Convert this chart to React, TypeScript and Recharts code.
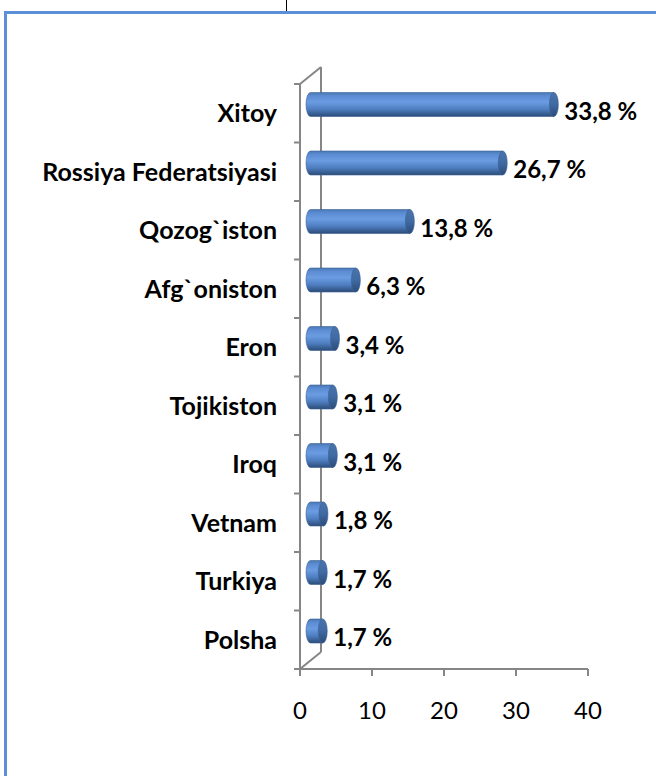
import { Bar, BarChart, LabelList, XAxis, YAxis, usePlotArea } from "recharts";

const countries = [
  "Xitoy",
  "Rossiya Federatsiyasi",
  "Qozog`iston",
  "Afg`oniston",
  "Eron",
  "Tojikiston",
  "Iroq",
  "Vetnam",
  "Turkiya",
  "Polsha",
];
const shares = [33.8, 26.7, 13.8, 6.3, 3.4, 3.1, 3.1, 1.8, 1.7, 1.7];
const xTicks = [0, 10, 20, 30, 40];

const data = countries.map((name, i) => ({ name, value: shares[i] }));

const AXIS = "#868686";
const FONT = "Lato, 'Open Sans', sans-serif";
// 3d depth of the plot box
const DEPTH_X = 21;
const DEPTH_Y = -17;
const CAP_RX = 4.5;

function Frame3D() {
  const area = usePlotArea();
  if (!area) return null;
  const { x, y, width, height } = area;
  const bottom = y + height;
  const n = countries.length;
  const ticks = Array.from({ length: n + 1 }, (_, i) => y + (i * height) / n);
  return (
    <g stroke={AXIS} strokeWidth={2} fill="none">
      <line x1={x + DEPTH_X} y1={y + DEPTH_Y} x2={x + DEPTH_X} y2={bottom + DEPTH_Y} />
      <line x1={x} y1={y} x2={x + DEPTH_X} y2={y + DEPTH_Y} />
      <line x1={x} y1={bottom} x2={x + DEPTH_X} y2={bottom + DEPTH_Y} />
      {ticks.map((ty) => (
        <line key={ty} x1={x - 6} y1={ty} x2={x} y2={ty} />
      ))}
    </g>
  );
}

function Cylinder(props: any) {
  const { x, y, width, height } = props;
  const x0 = x + DEPTH_X / 2;
  const x1 = x0 + Math.max(width, 0);
  const y0 = y + DEPTH_Y / 2;
  const ry = height / 2;
  const body = `M${x0},${y0} L${x1},${y0} L${x1},${y0 + height} L${x0},${y0 + height} A${CAP_RX},${ry} 0 0 1 ${x0},${y0} Z`;
  return (
    <g>
      <path d={body} fill="url(#cylGrad)" stroke="#3b6296" strokeWidth={0.6} />
      <ellipse cx={x1} cy={y0 + ry} rx={CAP_RX} ry={ry} fill="url(#capGrad)" stroke="#3b6296" strokeWidth={0.6} />
    </g>
  );
}

function ValueLabel(props: any) {
  const { x, y, width, height, value } = props;
  const tx = x + width + DEPTH_X / 2 + CAP_RX + 6;
  const ty = y + height / 2 - 2;
  return (
    <text x={tx} y={ty} dy="0.36em" fontFamily={FONT} fontWeight={700} fontSize={24} fill="#000">
      {Number(value).toFixed(1).replace(".", ",")} %
    </text>
  );
}

export default function App() {
  return (
    <div
      style={{
        position: "fixed",
        left: 0,
        top: 0,
        width: 656,
        height: 776,
        background: "#fff",
        overflow: "hidden",
      }}
    >
      <div style={{ position: "absolute", left: 286, top: 0, width: 1, height: 11, background: "#000" }} />
      <div
        style={{
          position: "absolute",
          left: 4,
          top: 11,
          width: 720,
          height: 820,
          border: "3px solid #5b8fd8",
        }}
      />
      <div style={{ position: "absolute", left: 0, top: 0 }}>
        <BarChart
          width={656}
          height={776}
          data={data}
          layout="vertical"
          margin={{ top: 84, right: 68, bottom: 67, left: 0 }}
          barSize={24}
        >
          <defs>
            <linearGradient id="cylGrad" x1="0" y1="0" x2="0" y2="1">
              <stop offset="0" stopColor="#4a78b4" />
              <stop offset="0.15" stopColor="#5c8dd4" />
              <stop offset="0.4" stopColor="#6b9ce2" />
              <stop offset="0.7" stopColor="#4e7ec0" />
              <stop offset="1" stopColor="#2c4c78" />
            </linearGradient>
            <linearGradient id="capGrad" x1="0" y1="0" x2="0" y2="1">
              <stop offset="0" stopColor="#4a74ab" />
              <stop offset="0.5" stopColor="#3f6aa2" />
              <stop offset="1" stopColor="#2c4c78" />
            </linearGradient>
          </defs>
          <XAxis
            type="number"
            domain={[0, 40]}
            ticks={xTicks}
            height={40}
            axisLine={{ stroke: AXIS, strokeWidth: 2 }}
            tickLine={{ stroke: AXIS, strokeWidth: 2 }}
            tickSize={7}
            tickMargin={26}
            tick={{ fill: "#000", fontSize: 24, fontFamily: FONT }}
          />
          <YAxis
            type="category"
            dataKey="name"
            width={300}
            axisLine={{ stroke: AXIS, strokeWidth: 2 }}
            tickLine={false}
            tickSize={0}
            tickMargin={23}
            tick={{ fill: "#000", fontSize: 25, fontWeight: 700, fontFamily: FONT }}
            interval={0}
          />
          <Frame3D />
          <Bar dataKey="value" shape={<Cylinder />} isAnimationActive={false}>
            <LabelList dataKey="value" content={<ValueLabel />} />
          </Bar>
        </BarChart>
      </div>
    </div>
  );
}
